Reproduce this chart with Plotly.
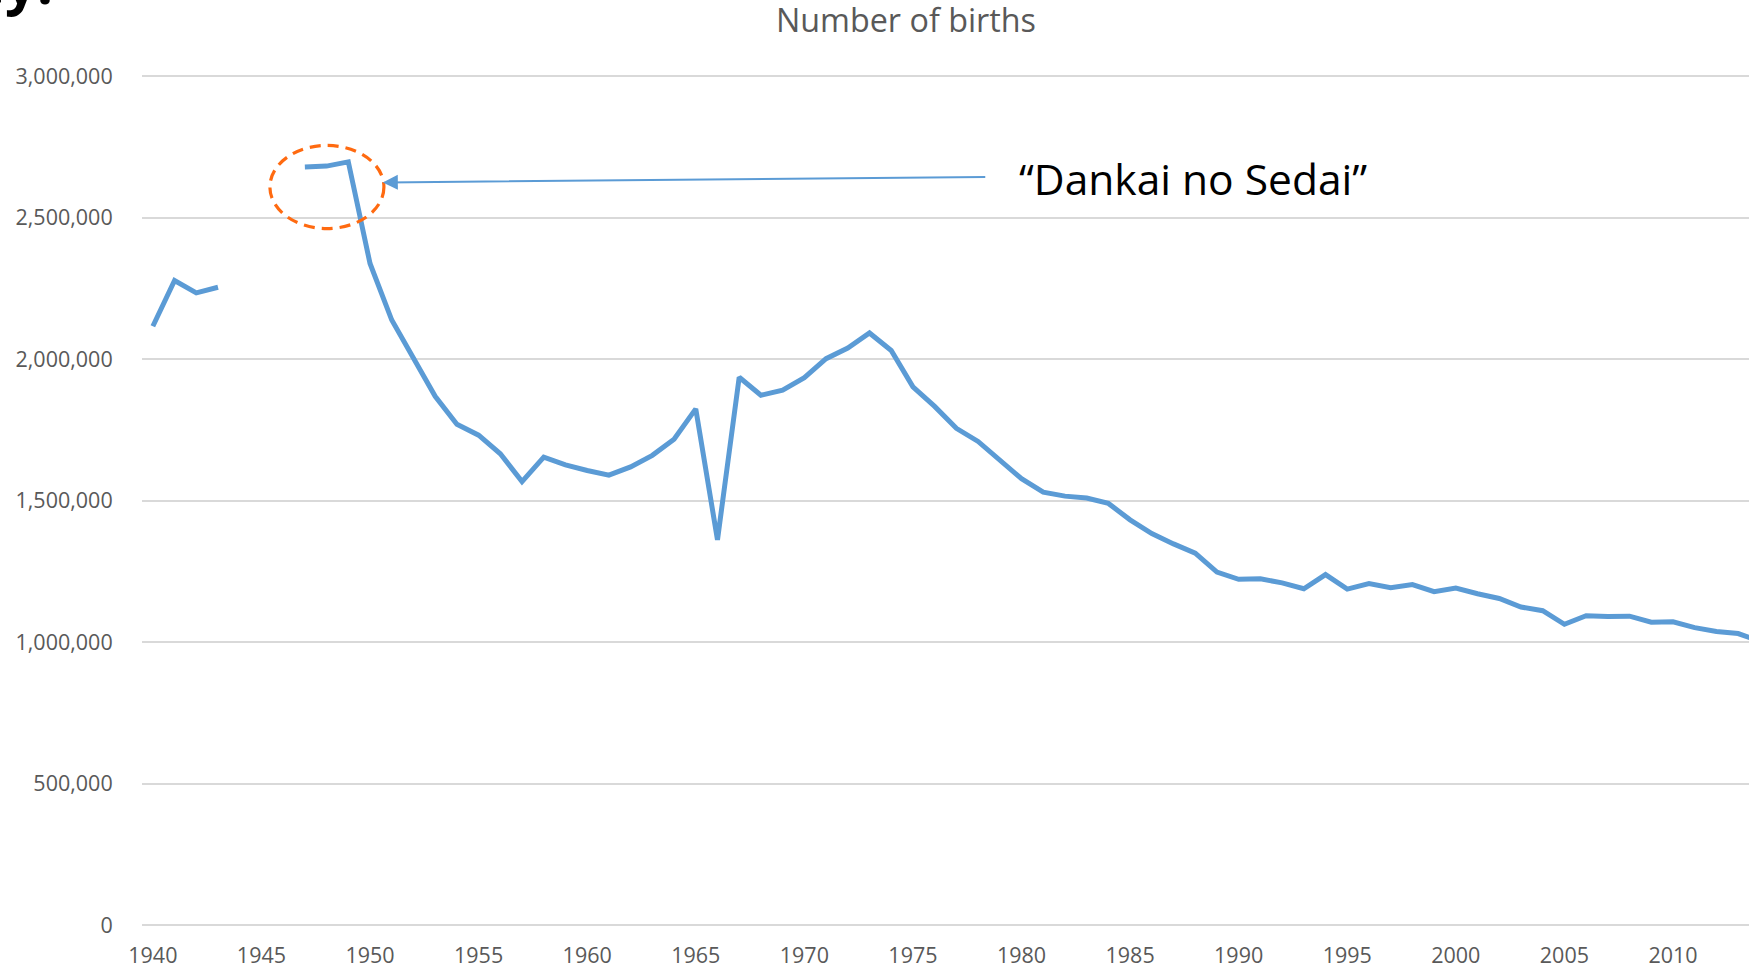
import plotly.graph_objects as go

# ---- data ----
years = list(range(1940, 2015))
births = [
    2115867, 2277283, 2233660, 2253535, None, None, None,
    2678792, 2681624, 2696638, 2337507, 2137689, 2005162, 1868040,
    1769580, 1730692, 1665278, 1566713, 1653469, 1626088, 1606041,
    1589372, 1618616, 1659521, 1716761, 1823697, 1360974, 1935647,
    1871839, 1889815, 1934239, 2000973, 2038682, 2091983, 2029989,
    1901440, 1832617, 1755100, 1708643, 1642580, 1576889, 1529455,
    1515392, 1508687, 1489780, 1431577, 1382946, 1346658, 1314006,
    1246802, 1221585, 1223245, 1208989, 1188282, 1238328, 1187064,
    1206555, 1191665, 1203147, 1177669, 1190547, 1170662, 1153855,
    1123610, 1110721, 1062530, 1092674, 1089818, 1091156, 1070035,
    1071304, 1050806, 1037231, 1029816, 1003539,
]
x_tick_years = list(range(1940, 2015, 5))
y_tick_values = [0, 500000, 1000000, 1500000, 2000000, 2500000, 3000000]

title_text = "Number of births"
callout_text = "\u201cDankai no Sedai\u201d"
slide_fragment = "ey."

# ---- styling ----
LINE_BLUE = "#5B9BD5"
GRID = "#D9D9D9"
TEXT_GREY = "#595959"
ORANGE = "#FF6A10"
FONT = "Open Sans"
Y_PAD = 7070  # ~2 px so the 0 and 3,000,000 gridlines are drawn

fig = go.Figure()
fig.add_trace(go.Scatter(
    x=years, y=births, mode="lines",
    line=dict(color=LINE_BLUE, width=5),
    connectgaps=False, hoverinfo="x+y", showlegend=False,
))

# dashed ellipse around the 1947-1949 peak
fig.add_shape(
    type="circle", xref="x", yref="y",
    x0=1945.39, x1=1950.64, y0=2461000, y1=2754600,
    line=dict(color=ORANGE, width=3.2, dash="11px,7px"),
)

# arrow from the label to the ellipse
fig.add_annotation(
    x=1950.59, y=2623800, ax=1978.40, ay=2643200,
    xref="x", yref="y", axref="x", ayref="y",
    text="", showarrow=True, arrowhead=2, arrowsize=1.5,
    arrowwidth=2, arrowcolor=LINE_BLUE, standoff=0,
)
# callout label
fig.add_annotation(
    x=1979.78, y=2637900, xref="x", yref="y",
    text=callout_text, showarrow=False, xanchor="left", yanchor="middle",
    font=dict(family=FONT, size=42.5, color="#000000"),
)
# cropped slide text at top-left
fig.add_annotation(
    x=-0.0541, y=1.0612, xref="paper", yref="paper",
    text="<b>" + slide_fragment + "</b>", showarrow=False,
    xanchor="right", yanchor="bottom",
    font=dict(family=FONT, size=56, color="#000000"),
)

fig.update_layout(
    width=1749, height=967,
    margin=dict(l=142, r=0, t=74, b=40, autoexpand=False),
    paper_bgcolor="white", plot_bgcolor="white",
    font=dict(family=FONT, color=TEXT_GREY),
    title=dict(
        text=title_text, xref="paper", x=0.4754, xanchor="center",
        yref="container", y=1 - 21 / 967, yanchor="middle",
        font=dict(family=FONT, size=32.3, color=TEXT_GREY),
    ),
    xaxis=dict(
        range=[1939.5, 2013.5], tickmode="array", tickvals=x_tick_years,
        ticktext=[str(v) for v in x_tick_years],
        showgrid=False, zeroline=False, showline=False, automargin=False,
        ticks="outside", ticklen=9, tickcolor="rgba(0,0,0,0)",
        tickfont=dict(family=FONT, size=21.5, color=TEXT_GREY),
    ),
    yaxis=dict(
        range=[-Y_PAD, 3000000 + Y_PAD], tickmode="array", tickvals=y_tick_values,
        tickformat=",", showgrid=True, gridcolor=GRID, gridwidth=2,
        zeroline=False, showline=False, automargin=False,
        ticks="outside", ticklen=24, tickcolor="rgba(0,0,0,0)",
        tickfont=dict(family=FONT, size=21.5, color=TEXT_GREY),
    ),
)

fig.write_html("out.html", config={"displayModeBar": False},
               post_script="document.body.style.margin='0';")
